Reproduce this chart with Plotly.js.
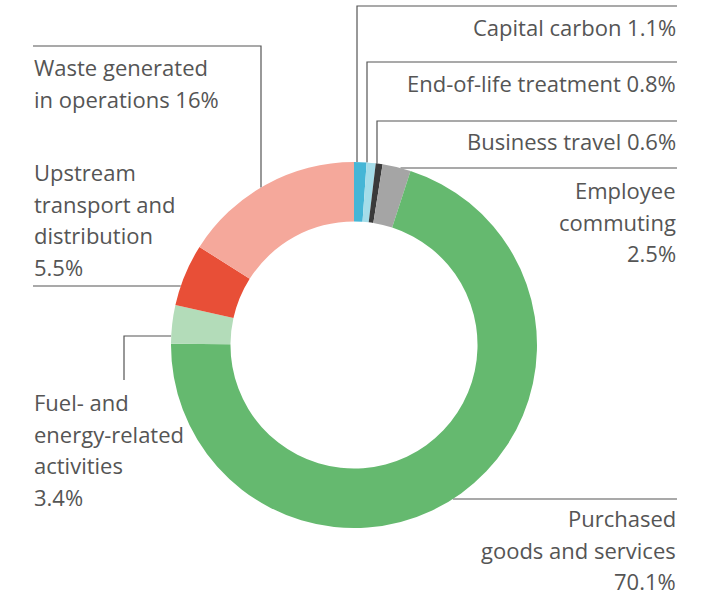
<!DOCTYPE html>
<html>
<head>
<meta charset="utf-8">
<script src="https://cdn.plot.ly/plotly-3.0.1.min.js"></script>
<style>html,body{margin:0;padding:0;background:#fff;}#chart{width:706px;height:596px;}</style>
</head>
<body>
<div id="chart"></div>
<script>
// ---- data ----
const categories = [
  'Capital carbon',
  'End-of-life treatment',
  'Business travel',
  'Employee commuting',
  'Purchased goods and services',
  'Fuel- and energy-related activities',
  'Upstream transport and distribution',
  'Waste generated in operations'
];
const shares = [1.1, 0.8, 0.6, 2.5, 70.1, 3.4, 5.5, 16];
const colors = ['#45b6d6', '#a5dde9', '#3a3a3a', '#a5a5a5', '#65b96f', '#b3dcb9', '#e84f37', '#f5a89b'];
const labelLines = [
  ['Capital carbon 1.1%'],
  ['End-of-life treatment 0.8%'],
  ['Business travel 0.6%'],
  ['Employee', 'commuting', '2.5%'],
  ['Purchased', 'goods and services', '70.1%'],
  ['Fuel- and', 'energy-related', 'activities', '3.4%'],
  ['Upstream', 'transport and', 'distribution', '5.5%'],
  ['Waste generated', 'in operations 16%']
];

// ---- layout constants (pixels) ----
const W = 706, H = 596;
const CX = 354, CY = 345, R = 183;
const TXT = '#555555';
const FONT = 'Open Sans, sans-serif';
const FS = 22;
const LINE = 31.7;
const px = x => x / W;
const py = y => 1 - y / H;
const P = (x, y) => px(x).toFixed(5) + ',' + py(y).toFixed(5);
const circY = x => CY - Math.sqrt(R * R - (x - CX) * (x - CX)); // top half
const circXLeft = y => CX - Math.sqrt(R * R - (y - CY) * (y - CY));
const circXRight = y => CX + Math.sqrt(R * R - (y - CY) * (y - CY));

// label placement: [anchorX, firstLineCenterY, side]
const labelPos = [
  [677, 27, 'right'],
  [677, 83, 'right'],
  [677, 141, 'right'],
  [677, 190, 'right'],
  [677, 518, 'right'],
  [33, 402, 'left'],
  [33, 172, 'left'],
  [33, 67, 'left']
];

// leader line paths
const leaders = [
  'M' + P(357, circY(357)) + 'L' + P(357, 6) + 'L' + P(677, 6),
  'M' + P(367, circY(367)) + 'L' + P(367, 62) + 'L' + P(677, 62),
  'M' + P(377, circY(377)) + 'L' + P(377, 121) + 'L' + P(677, 121),
  'M' + P(circXRight(168), 168) + 'L' + P(677, 168),
  'M' + P(circXRight(499), 499) + 'L' + P(677, 499),
  'M' + P(circXLeft(336), 336) + 'L' + P(124, 336) + 'L' + P(124, 380),
  'M' + P(33, 286) + 'L' + P(circXLeft(286), 286),
  'M' + P(33, 46) + 'L' + P(261, 46) + 'L' + P(261, circY(261))
];

const shapes = leaders.map(p => ({
  type: 'path', xref: 'paper', yref: 'paper', path: p,
  line: {color: '#555555', width: 1.2}, layer: 'below'
}));

const annotations = [];
labelLines.forEach((lines, i) => {
  const [ax, ay, side] = labelPos[i];
  lines.forEach((t, k) => {
    annotations.push({
      xref: 'paper', yref: 'paper', x: px(ax), y: py(ay + k * LINE),
      xanchor: side, yanchor: 'middle', showarrow: false, text: t,
      align: side, borderpad: 0,
      font: {family: FONT, size: FS, color: TXT}
    });
  });
});

const trace = {
  type: 'pie',
  labels: categories,
  values: shares,
  sort: false,
  direction: 'clockwise',
  rotation: 0,
  hole: 0.675,
  textinfo: 'none',
  marker: {colors: colors, line: {width: 0}},
  domain: {x: [px(CX - R), px(CX + R)], y: [py(CY + R), py(CY - R)]},
  showlegend: false
};

const layout = {
  width: W, height: H,
  margin: {l: 0, r: 0, t: 0, b: 0},
  paper_bgcolor: '#ffffff',
  plot_bgcolor: '#ffffff',
  shapes: shapes,
  annotations: annotations,
  showlegend: false
};

Plotly.newPlot('chart', [trace], layout, {displayModeBar: false, staticPlot: true});
</script>
</body>
</html>
